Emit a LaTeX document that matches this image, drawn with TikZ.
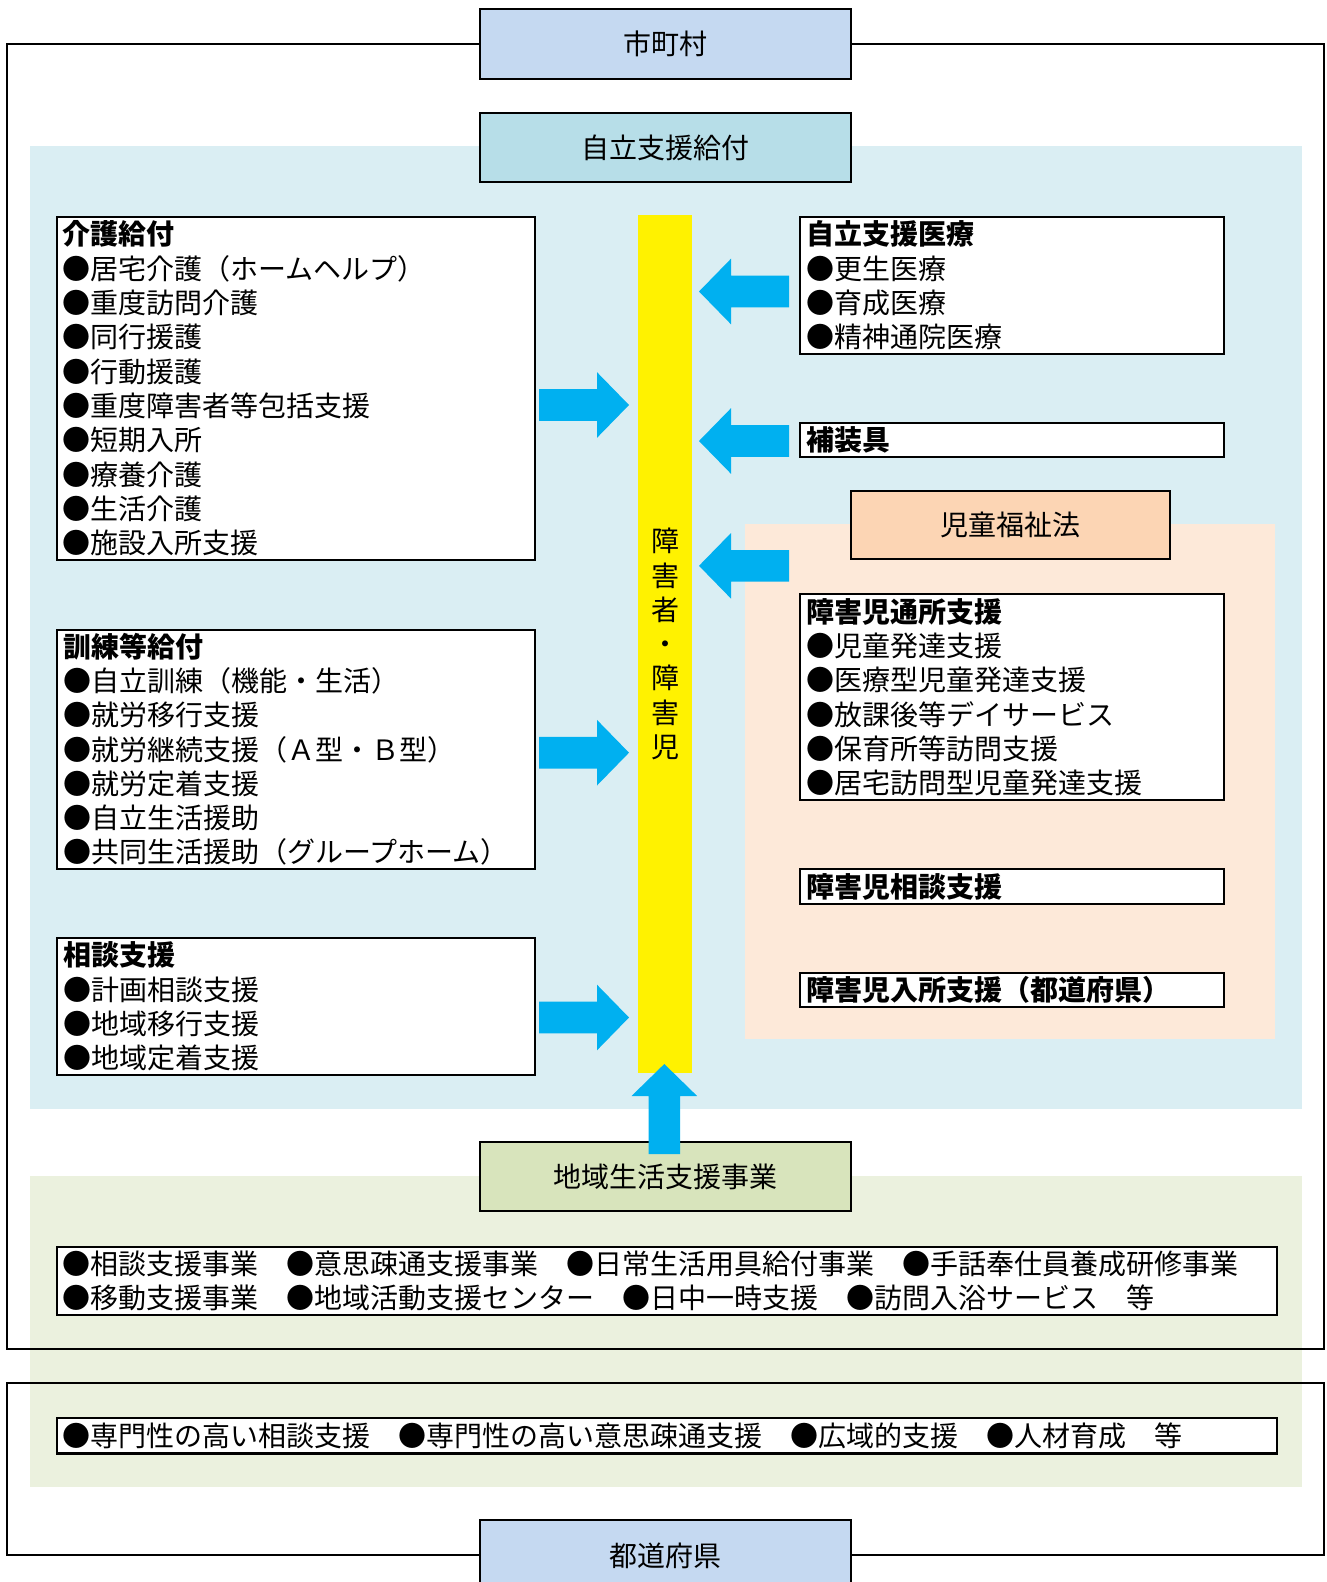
\documentclass[tikz,border=0pt]{standalone}
\usepackage{fontspec}
\setmainfont{Noto Sans CJK JP}
\definecolor{munic}{HTML}{C5D9F1}
\definecolor{jiritsu}{HTML}{B7DEE8}
\definecolor{bluebg}{HTML}{DAEEF3}
\definecolor{peachbg}{HTML}{FDE9D9}
\definecolor{jidoc}{HTML}{FCD5B4}
\definecolor{greenbg}{HTML}{EBF1DE}
\definecolor{chiikic}{HTML}{D8E4BC}
\definecolor{arrowc}{HTML}{00B0F0}
\newcommand\bodyfs{\fontsize{28}{34.3}\selectfont}
\tikzset{
  titlebox/.style={draw=black, line width=2pt, inner sep=0pt, font=\bodyfs, align=center},
  listbox/.style={draw=black, line width=2.2pt, fill=white, inner xsep=6pt, inner ysep=0pt,
    align=left, anchor=north west, font=\bodyfs},
  frameline/.style={draw=black, line width=2pt},
  blockarrow/.pic={\fill[arrowc] (0,-15.8) -- (58,-15.8) -- (58,-32.8) -- (90,0) -- (58,32.8) -- (58,15.8) -- (0,15.8) -- cycle;}
}
\begin{document}
\begin{tikzpicture}[x=1pt,y=-1pt]
\useasboundingbox (0,0) rectangle (1326,1582);
\clip (0,0) rectangle (1326,1582);
\fill[white] (0,0) rectangle (1326,1582);
% background regions
\fill[bluebg] (30,146) rectangle (1302,1108.7);
\fill[peachbg] (745,524.4) rectangle (1274.5,1039);
\fill[greenbg] (30,1176) rectangle (1302,1487);
% frames
\draw[frameline] (7,44) rectangle (1324,1348.6);
\draw[frameline] (7,1383) rectangle (1324,1554.6);
% title boxes
\node[titlebox, fill=munic, minimum width=371, minimum height=70] (shichoson) at (665.5,44) {市町村};
\node[titlebox, fill=jiritsu, minimum width=371, minimum height=69] (jiritsukyufu) at (665.5,147.5) {自立支援給付};
\node[titlebox, fill=jidoc, minimum width=319, minimum height=68] (jidofukushi) at (1010.5,525) {児童福祉法};
\node[titlebox, fill=chiikic, minimum width=371, minimum height=69] (chiiki) at (665.5,1176.5) {地域生活支援事業};
\node[titlebox, fill=munic, minimum width=371, minimum height=72.4] (todofuken) at (665.5,1555.8) {都道府県};
% yellow bar
\node[fill=yellow, inner sep=0pt, minimum width=54, minimum height=857.7, anchor=north west,
  font=\bodyfs, align=center] (bar) at (638,215) {障\\害\\者\\・\\障\\害\\児};
% list boxes
\node[listbox, text width=466, minimum height=343.3] (kaigo) at (55.6,215.7)
 {\textbf{介護給付}\\●居宅介護（ホームヘルプ）\\●重度訪問介護\\●同行援護\\●行動援護\\●重度障害者等包括支援\\●短期入所\\●療養介護\\●生活介護\\●施設入所支援};
\node[listbox, text width=465.5, minimum height=239.1] (kunren) at (56,628.6)
 {\textbf{訓練等給付}\\●自立訓練（機能・生活）\\●就労移行支援\\●就労継続支援（Ａ型・Ｂ型）\\●就労定着支援\\●自立生活援助\\●共同生活援助（グループホーム）};
\node[listbox, text width=465.5, minimum height=136.6] (soudan) at (56,937)
 {\textbf{相談支援}\\●計画相談支援\\●地域移行支援\\●地域定着支援};
\node[listbox, text width=412, minimum height=137.3] (iryo) at (799,215.7)
 {\textbf{自立支援医療}\\●更生医療\\●育成医療\\●精神通院医療};
\node[listbox, text width=412, minimum height=34.3] (hosougu) at (799,421.7)
 {\textbf{補装具}};
\node[listbox, text width=412, minimum height=206] (tsusho) at (799,593)
 {\textbf{障害児通所支援}\\●児童発達支援\\●医療型児童発達支援\\●放課後等デイサービス\\●保育所等訪問支援\\●居宅訪問型児童発達支援};
\node[listbox, text width=412, minimum height=35] (jisoudan) at (799,868)
 {\textbf{障害児相談支援}};
\node[listbox, text width=412, minimum height=34] (nyusho) at (799,972)
 {\textbf{障害児入所支援（都道府県）}};
\node[listbox, text width=1207.8, minimum height=68.5] (chiikirow) at (55.8,1245.5)
 {●相談支援事業　●意思疎通支援事業　●日常生活用具給付事業　●手話奉仕員養成研修事業\\●移動支援事業　●地域活動支援センター　●日中一時支援　●訪問入浴サービス　等};
\node[listbox, text width=1207.8, minimum height=35.9] (kenrow) at (55.8,1416.5)
 {●専門性の高い相談支援　●専門性の高い意思疎通支援　●広域的支援　●人材育成　等};
% block arrows
\pic at (539,405) {blockarrow};
\pic at (539,752.7) {blockarrow};
\pic at (539,1017.5) {blockarrow};
\pic[rotate=180] at (789,291.5) {blockarrow};
\pic[rotate=180] at (789,441) {blockarrow};
\pic[rotate=180] at (789,565.8) {blockarrow};
\pic[rotate=90] at (664.3,1154) {blockarrow};
\end{tikzpicture}
\end{document}
